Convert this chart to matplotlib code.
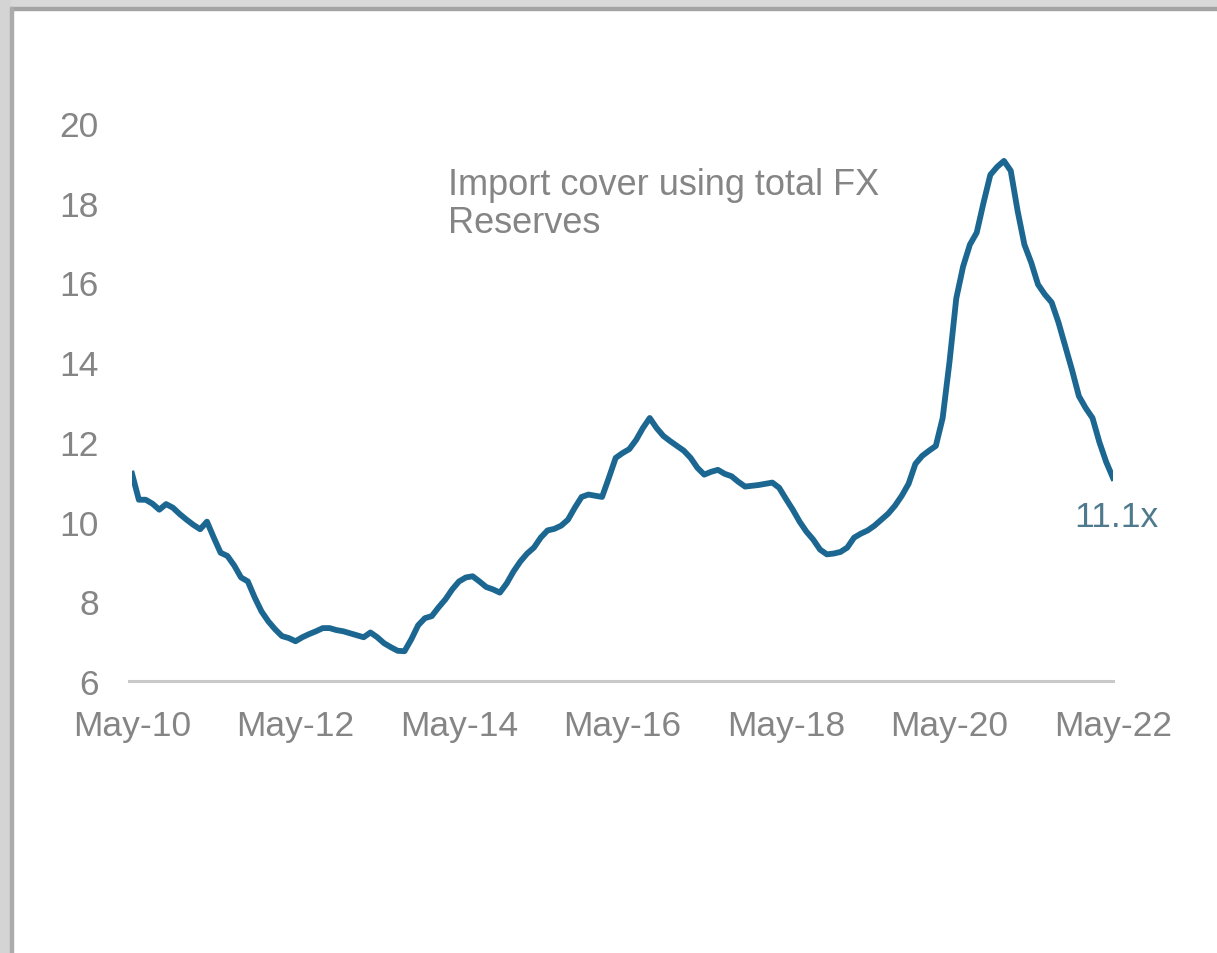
import matplotlib
matplotlib.use("Agg")
import matplotlib.pyplot as plt
from matplotlib.patches import Rectangle

# monthly import cover (x), May-10 .. May-22
cover_2010 = [11.2, 10.55, 10.55, 10.45, 10.3, 10.44, 10.35, 10.19]
cover_2011 = [10.05, 9.92, 9.81, 10.0, 9.6, 9.22, 9.14, 8.9, 8.6, 8.5, 8.1, 7.75]
cover_2012 = [7.5, 7.3, 7.13, 7.08, 7.0, 7.1, 7.18, 7.25, 7.33, 7.33, 7.28, 7.25]
cover_2013 = [7.2, 7.15, 7.1, 7.22, 7.1, 6.95, 6.85, 6.76, 6.75, 7.05, 7.4, 7.58]
cover_2014 = [7.63, 7.85, 8.05, 8.3, 8.5, 8.6, 8.63, 8.5, 8.36, 8.3, 8.22, 8.45]
cover_2015 = [8.75, 9.0, 9.2, 9.35, 9.6, 9.78, 9.82, 9.9, 10.05, 10.35, 10.62, 10.68]
cover_2016 = [10.65, 10.62, 11.1, 11.6, 11.72, 11.82, 12.05, 12.35, 12.6, 12.35, 12.15, 12.02]
cover_2017 = [11.9, 11.78, 11.6, 11.35, 11.18, 11.25, 11.3, 11.2, 11.14, 11.0, 10.88, 10.9]
cover_2018 = [10.92, 10.95, 10.98, 10.85, 10.57, 10.3, 10.0, 9.75, 9.55, 9.3, 9.18, 9.2]
cover_2019 = [9.24, 9.35, 9.6, 9.7, 9.78, 9.9, 10.05, 10.2, 10.4, 10.65, 10.95, 11.45]
cover_2020 = [11.65, 11.78, 11.9, 12.6, 14.0, 15.6, 16.4, 16.95, 17.25, 18.0, 18.7, 18.9]
cover_2021 = [19.05, 18.8, 17.8, 16.95, 16.5, 15.95, 15.7, 15.5, 15.0, 14.4, 13.8, 13.15]
cover_2022 = [12.85, 12.6, 12.0, 11.5, 11.1]

cover = (cover_2010 + cover_2011 + cover_2012 + cover_2013 + cover_2014 + cover_2015
         + cover_2016 + cover_2017 + cover_2018 + cover_2019 + cover_2020 + cover_2021
         + cover_2022)
months = list(range(len(cover)))

tick_months = [0, 24, 48, 72, 96, 120, 144]
tick_labels = ["May-10", "May-12", "May-14", "May-16", "May-18", "May-20", "May-22"]
y_ticks = [6, 8, 10, 12, 14, 16, 18, 20]

plt.rcParams["font.family"] = ["Liberation Sans", "DejaVu Sans"]
grey = "#858585"
line_col = "#1c6791"

fig = plt.figure(figsize=(12.17, 9.54), dpi=100)
ax = fig.add_axes([0.1085, 0.285, 0.806, 0.585])

ax.plot(months, cover, color=line_col, lw=4.2, solid_joinstyle="round")

ax.set_xlim(0, 144)
ax.set_ylim(6, 20)
ax.set_xticks(tick_months)
ax.set_xticklabels(tick_labels)
ax.set_yticks(y_ticks)
ax.tick_params(axis="both", length=0, labelsize=25.5, labelcolor=grey)
ax.tick_params(axis="y", pad=24)
ax.tick_params(axis="x", pad=20)

for side in ["top", "right", "left"]:
    ax.spines[side].set_visible(False)
ax.spines["bottom"].set_color("#c9c9c9")
ax.spines["bottom"].set_linewidth(2.2)
ax.spines["bottom"].set_bounds(-0.4, 144)

ax.text(0.322, 0.922, "Import cover using total FX\nReserves", transform=ax.transAxes,
        fontsize=26, color=grey, va="top", ha="left", linespacing=1.14)
ax.text(144.5, cover[-1] - 0.55, "%.1fx" % cover[-1], color="#4f7a8e",
        fontsize=25.5, ha="center", va="top")

# screenshot frame, top and left edges
fig.patches.append(Rectangle((0, 1 - 8 / 954), 1, 8 / 954, transform=fig.transFigure,
                             color="#d9d9d9", zorder=0))
fig.patches.append(Rectangle((0, 1 - 11 / 954), 1, 3 / 954, transform=fig.transFigure,
                             color="#a3a3a3", zorder=0))
fig.patches.append(Rectangle((0, 0), 10 / 1217, 1, transform=fig.transFigure,
                             color="#d4d4d4", zorder=0))
fig.patches.append(Rectangle((10 / 1217, 0), 3 / 1217, 1 - 8 / 954, transform=fig.transFigure,
                             color="#ababab", zorder=0))

fig.savefig("out.png", dpi=100)
